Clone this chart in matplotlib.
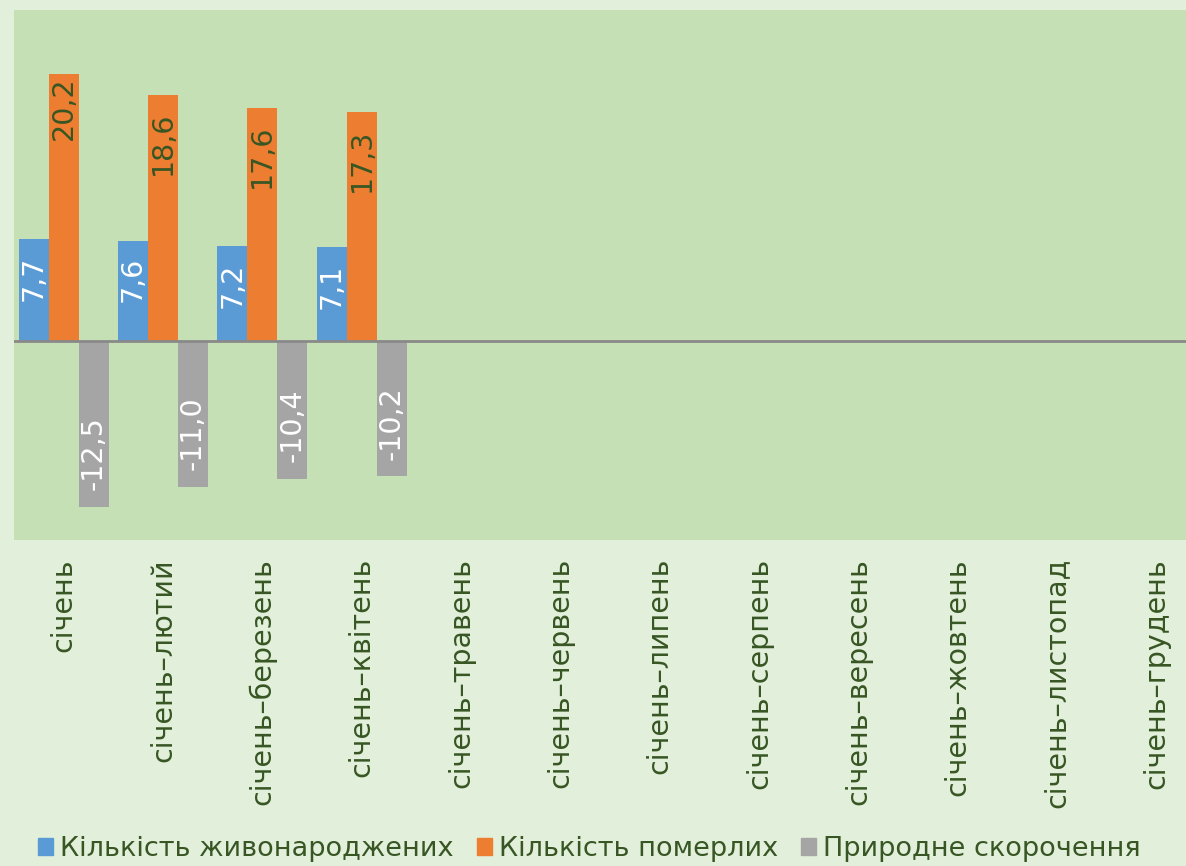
import numpy as np
import matplotlib
matplotlib.use("Agg")
import matplotlib.pyplot as plt
from matplotlib.patches import Patch

categories = ["січень", "січень–лютий", "січень–березень", "січень–квітень",
              "січень–травень", "січень–червень", "січень–липень", "січень–серпень",
              "січень–вересень", "січень–жовтень", "січень–листопад", "січень–грудень"]
births = [7.7, 7.6, 7.2, 7.1]
deaths = [20.2, 18.6, 17.6, 17.3]
decrease = [-12.5, -11.0, -10.4, -10.2]
series_names = ["Кількість живонароджених", "Кількість померлих", "Природне скорочення"]

def pad(vals):
    return np.array(vals + [np.nan] * (len(categories) - len(vals)), dtype=float)

BG = "#e2efda"
PLOT_BG = "#c5e0b4"
C_BLUE = "#5b9bd5"
C_ORANGE = "#ed7d31"
C_GRAY = "#a5a5a5"
DARK_GREEN = "#375623"

plt.rcParams['font.family'] = ['DejaVu Sans']

fig = plt.figure(figsize=(11.86, 8.66), dpi=100, facecolor=BG)
ax = fig.add_axes([14/1186, 1 - 540/866, 1192/1186, 530/866])
ax.set_facecolor(PLOT_BG)

x = np.arange(len(categories))
w = 0.302
series = [pad(births), pad(deaths), pad(decrease)]
colors = [C_BLUE, C_ORANGE, C_GRAY]
offsets = [-w, 0, w]
for vals, c, off in zip(series, colors, offsets):
    ax.bar(x + off, vals, width=w, color=c, zorder=2)

ax.axhline(0, color="#898989", linewidth=2, zorder=3)
ax.set_xlim(-0.5, len(categories) - 0.5)
ax.set_ylim(-15, 25)
ax.set_yticks([])
for s in ax.spines.values():
    s.set_visible(False)
ax.set_xticks(x)
ax.set_xticklabels(categories, rotation=90, color=DARK_GREEN, fontsize=20.5, va="top")
ax.tick_params(axis="x", length=0, pad=13)

fs = 20.5
inset = 1.25
for i, v in enumerate(births):
    ax.text(x[i] - w, v - inset, f"{v:.1f}".replace(".", ","), rotation=90,
            ha="center", va="top", color="white", fontsize=fs, zorder=4)
for i, v in enumerate(deaths):
    ins = 0.2 if i == 0 else inset
    ax.text(x[i], v - ins, f"{v:.1f}".replace(".", ","), rotation=90,
            ha="center", va="top", color=DARK_GREEN, fontsize=fs, zorder=4)
for i, v in enumerate(decrease):
    ax.text(x[i] + w, v + inset, f"{v:.1f}".replace(".", ","), rotation=90,
            ha="center", va="bottom", color="white", fontsize=fs, zorder=4)

handles = [Patch(color=c) for c in colors]
leg = fig.legend(handles, series_names, loc="center", bbox_to_anchor=(0.497, 1 - 849/866),
                 ncol=3, frameon=False, fontsize=19.5, handlelength=0.55, handleheight=0.6,
                 handletextpad=0.26, columnspacing=0.85, labelcolor=DARK_GREEN)

fig.savefig("out.png", dpi=100, facecolor=BG)
